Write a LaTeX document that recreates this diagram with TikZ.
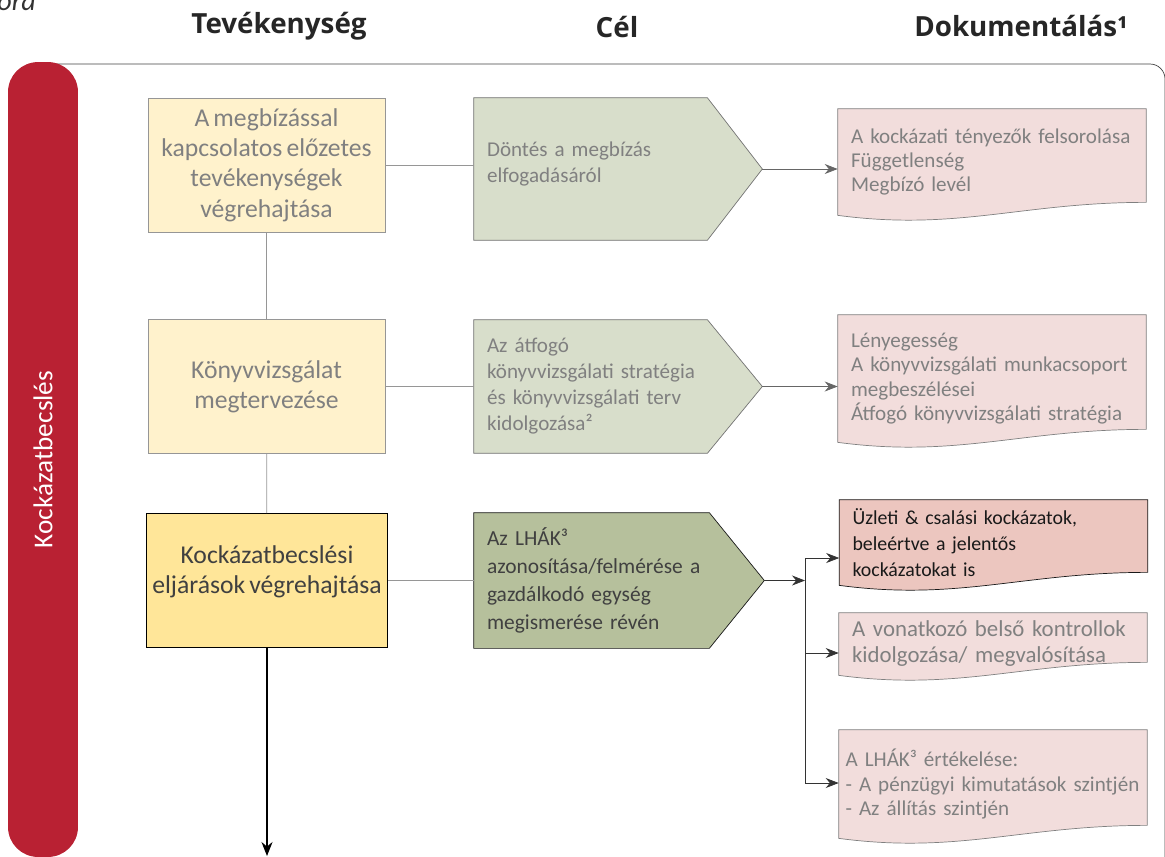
\documentclass[tikz,border=0pt]{standalone}
\usepackage{fontspec}
\setmainfont{Carlito}[WordSpace=0.7]
\newfontfamily\headfont{Open Sans}
\usepackage{tikz}
\usetikzlibrary{arrows.meta,positioning,calc,backgrounds}
\definecolor{riskred}{RGB}{185,33,51}
\definecolor{actlight}{RGB}{255,242,204}
\definecolor{actdark}{RGB}{255,230,153}
\definecolor{goallight}{RGB}{216,222,203}
\definecolor{goaldark}{RGB}{182,192,156}
\definecolor{doclight}{RGB}{242,221,220}
\definecolor{docdark}{RGB}{236,198,191}
\definecolor{fadegray}{RGB}{128,128,128}
\definecolor{linegray}{RGB}{150,150,150}
\definecolor{darktext}{RGB}{64,64,64}
% wavy document outline round a named node
\newcommand{\docshape}[3]{\path[fill=#2, draw=#3] (#1.north west) -- (#1.north east) -- ([yshift=0.26cm]#1.south east) .. controls ([xshift=-2.5cm,yshift=0.26cm]#1.south east) and ([xshift=2.4cm,yshift=-0.32cm]#1.south west) .. (#1.south west) -- cycle;}
% pentagon (arrow box) round a named node
\newcommand{\goalshape}[3]{\path[fill=#2, draw=#3] (#1.north west) -- ([xshift=-1.1cm]#1.north east) -- (#1.east) -- ([xshift=-1.1cm]#1.south east) -- (#1.south west) -- cycle;}

\begin{document}
\begin{tikzpicture}[x=0.02cm, y=-0.02cm,
    head/.style={font=\headfont\fontsize{15.8}{18}\selectfont\bfseries, text=black!85},
    lane/.style={rectangle, rounded corners=0.6cm, fill=riskred, text=white, minimum width=15.9cm, minimum height=1.4cm, font=\fontsize{15.5}{18}\selectfont},
    act/.style={rectangle, draw=linegray, fill=actlight, text=fadegray, minimum width=4.74cm, minimum height=2.68cm, align=center, font=\fontsize{14.6}{17.2}\selectfont},
    goal/.style={rectangle, minimum width=5.76cm, minimum height=2.7cm, text width=5.24cm, inner xsep=0pt, align=left, text=fadegray, font=\fontsize{12}{14.8}\selectfont},
    doc/.style={rectangle, minimum width=6.16cm, text width=5.64cm, inner xsep=0pt, align=left, text=fadegray, font=\fontsize{12}{13.9}\selectfont},
    conn/.style={draw=linegray, thin},
    arrow/.style={-{Stealth[length=2.6mm,width=2mm]}, draw=black!60, thin},
    darrow/.style={-{Stealth[length=2.6mm,width=2mm]}, draw=black!80, thin}
]
\useasboundingbox (0,0) rectangle (1165,856);

\node[font=\fontsize{16}{18}\selectfont\itshape, text=black!80, anchor=base west, inner sep=0pt] (fig) at (-3,10) {ora};

\node[head] (h1) at (279,26) {Tevékenység};
\node[head] (h2) at (617,27) {Cél};
\node[head] (h3) at (1021,26) {Dokumentálás¹};

% frame and swimlane
\draw[black!75] (40,64) -- (1150,64) arc[start angle=90, end angle=0, radius=0.3cm] -- (1165,900);
\node[lane, rotate=90] (lane) at (43,459.5) {Kockázatbecslés};

% activities
\node[act] (act1) at (266.5,165) {A megbízással\\kapcsolatos előzetes\\tevékenységek\\végrehajtása};
\node[act] (act2) at (266.5,386.5) {Könyvvizsgálat\\megtervezése};
\node[act, draw=black, fill=actdark, text=darktext, minimum width=4.78cm] (act3) at (267,580.5) {Kockázatbecslési\\eljárások végrehajtása\\[-5pt]};

% goals
\node[goal, minimum height=2.84cm] (goal1) at (618,169) {Döntés a megbízás\\elfogadásáról\\[-7pt]\mbox{}};
\node[goal, minimum height=2.66cm] (goal2) at (618,386.5) {Az átfogó\\könyvvizsgálati stratégia\\és könyvvizsgálati terv\\kidolgozása²};
\node[goal, minimum width=5.8cm, text width=5.28cm, text=darktext, font=\fontsize{12.2}{15.9}\selectfont] (goal3) at (619,580.5) {Az LHÁK³\\azonosítása/felmérése a\\gazdálkodó egység\\megismerése révén};

% documents
\node[doc, minimum height=2.12cm] (doc1) at (992,162) {A kockázati tényezők felsorolása\\Függetlenség\\Megbízó levél};
\node[doc, minimum height=2.54cm] (doc2) at (992,378.5) {Lényegesség\\A könyvvizsgálati munkacsoport\\megbeszélései\\Átfogó könyvvizsgálati stratégia};
\node[doc, minimum height=1.7cm, text=black!90, font=\fontsize{11.3}{14.8}\selectfont] (doc3) at (993.5,542.5) {Üzleti \& csalási kockázatok,\\beleértve a jelentős\\kockázatokat is};
\node[doc, minimum height=1.24cm, font=\fontsize{13}{14.8}\selectfont] (doc4) at (993,644) {A vonatkozó belső kontrollok\\kidolgozása/ megvalósítása};
\node[doc, minimum height=2.16cm, text width=5.9cm] (doc5) at (993,784) {A LHÁK³ értékelése:\\- A pénzügyi kimutatások szintjén\\- Az állítás szintjén};

\begin{scope}[on background layer]
\goalshape{goal1}{goallight}{black!55}
\goalshape{goal2}{goallight}{black!55}
\goalshape{goal3}{goaldark}{black!90}
\docshape{doc1}{doclight}{black!50}
\docshape{doc2}{doclight}{black!50}
\docshape{doc3}{docdark}{black!90}
\docshape{doc4}{doclight}{black!50}
\docshape{doc5}{doclight}{black!50}
\end{scope}

% connectors
\draw[conn] (act1) -- (act2);
\draw[conn] (act2) -- (act3);
\draw[conn] (act1.east) -- (act1.east -| goal1.west);
\draw[conn] (act2.east) -- (act2.east -| goal2.west);
\draw[conn] (act3.east) -- (act3.east -| goal3.west);
\draw[arrow] (goal1.east) -- (goal1.east -| doc1.west);
\draw[arrow] (goal2.east) -- (goal2.east -| doc2.west);

\coordinate (split) at (805,580.5);
\coordinate (b3) at (805,558);
\coordinate (b4) at (805,653);
\coordinate (b5) at (805,783);
\draw[darrow] (goal3.east) -- (split);
\draw[draw=black!80, thin] (b3) -- (b5);
\draw[darrow] (b3) -- (b3 -| doc3.west);
\draw[darrow] (b4) -- (b4 -| doc4.west);
\draw[darrow] (b5) -- (b5 -| doc5.west);

\coordinate (down) at (265,856);
\draw[-{Stealth[length=2.8mm,width=2.2mm]}, thick] (act3) -- (act3 |- down);

\end{tikzpicture}
\end{document}
